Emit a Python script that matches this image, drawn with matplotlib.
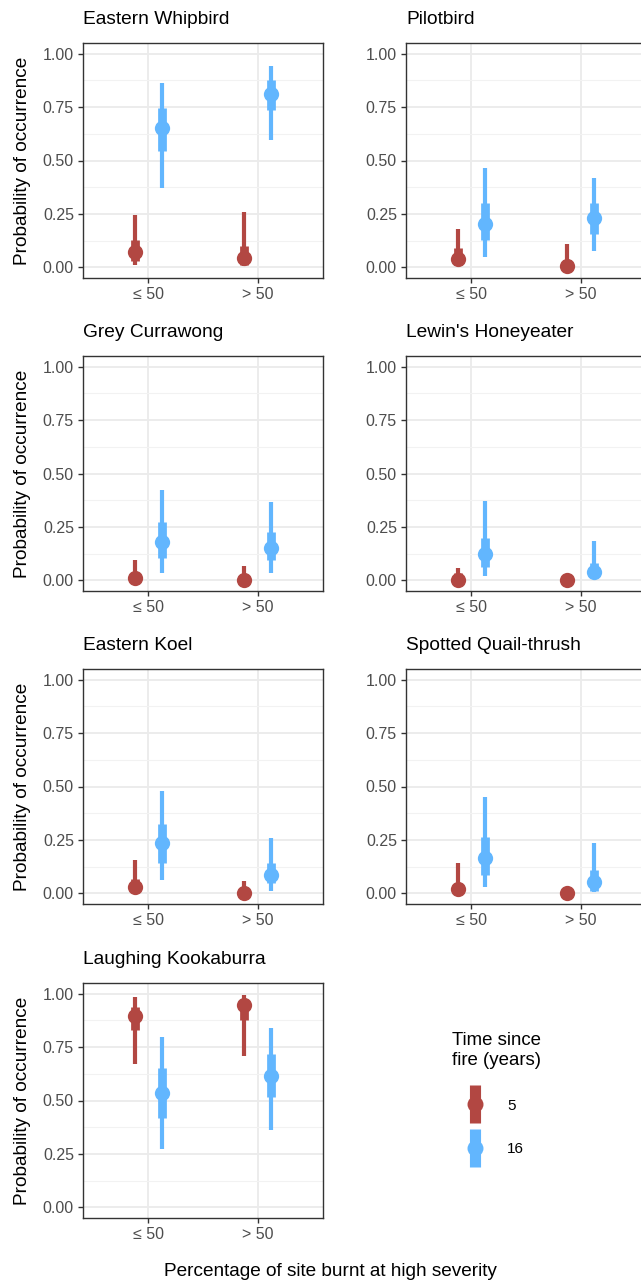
import numpy as np
import matplotlib.pyplot as plt
from matplotlib.lines import Line2D
from matplotlib.ticker import MultipleLocator

plt.rcParams['font.family'] = ['Liberation Sans', 'DejaVu Sans']

species = ['Eastern Whipbird', 'Pilotbird', 'Grey Currawong', "Lewin's Honeyeater",
           'Eastern Koel', 'Spotted Quail-thrush', 'Laughing Kookaburra']
categories = ['≤ 50', '> 50']
years = ['5', '16']

# rows = species, cols = (<= 50, > 50)
med_5 = [[0.072, 0.044], [0.040, 0.008], [0.011, 0.002], [0.002, 0.000],
         [0.028, 0.000], [0.020, 0.000], [0.894, 0.946]]
lo50_5 = [[0.030, 0.012], [0.012, 0.000], [0.000, 0.000], [0.000, 0.000],
          [0.012, 0.000], [0.005, 0.000], [0.829, 0.876]]
hi50_5 = [[0.130, 0.100], [0.090, 0.035], [0.035, 0.020], [0.035, 0.005],
          [0.067, 0.020], [0.040, 0.005], [0.938, 0.969]]
lo95_5 = [[0.010, 0.005], [0.005, 0.000], [0.000, 0.000], [0.000, 0.000],
          [0.005, 0.000], [0.000, 0.000], [0.669, 0.708]]
hi95_5 = [[0.246, 0.260], [0.180, 0.110], [0.095, 0.067], [0.060, 0.012],
          [0.157, 0.056], [0.144, 0.010], [0.984, 0.995]]

med_16 = [[0.653, 0.809], [0.204, 0.230], [0.180, 0.149], [0.121, 0.040],
          [0.234, 0.087], [0.167, 0.054], [0.537, 0.614]]
lo50_16 = [[0.546, 0.736], [0.130, 0.155], [0.103, 0.095], [0.064, 0.015],
           [0.144, 0.047], [0.087, 0.012], [0.417, 0.518]]
hi50_16 = [[0.747, 0.876], [0.300, 0.300], [0.274, 0.227], [0.200, 0.080],
           [0.326, 0.144], [0.265, 0.109], [0.650, 0.720]]
lo95_16 = [[0.370, 0.596], [0.050, 0.078], [0.036, 0.036], [0.020, 0.005],
           [0.060, 0.010], [0.028, 0.005], [0.274, 0.362]]
hi95_16 = [[0.863, 0.942], [0.467, 0.417], [0.425, 0.365], [0.373, 0.183],
           [0.480, 0.257], [0.451, 0.234], [0.795, 0.840]]

red = '#B24742'
blue = '#62B6FE'

W, H = 641, 1283
fig = plt.figure(figsize=(W / 100, H / 100), dpi=100)

col_left = [83, 406]
row_top = [43, 356, 669, 983]
aw, ah = 240, 235

series = [
    (med_5, lo50_5, hi50_5, lo95_5, hi95_5, red, -0.12),
    (med_16, lo50_16, hi50_16, lo95_16, hi95_16, blue, 0.12),
]

x = np.arange(1, len(categories) + 1)

for i, name in enumerate(species):
    r, c = divmod(i, 2)
    l = col_left[c]
    t = row_top[r]
    ax = fig.add_axes([l / W, 1 - (t + ah) / H, aw / W, ah / H])

    for med, lo50, hi50, lo95, hi95, col, off in series:
        xs = x + off
        ax.vlines(xs, lo95[i], hi95[i], color=col, lw=3.0, zorder=3)
        ax.vlines(xs, lo50[i], hi50[i], color=col, lw=6.3, zorder=3)
        ax.plot(xs, med[i], 'o', color=col, ms=11, mew=0, zorder=4)

    ax.set_xlim(0.4, 2.6)
    ax.set_xticks(x)
    ax.set_xticklabels(categories)
    ax.yaxis.set_minor_locator(MultipleLocator(0.125))
    ax.set_ylim(-0.05, 1.05)
    ax.set_yticks([0, 0.25, 0.5, 0.75, 1.0])
    ax.set_yticklabels(['0.00', '0.25', '0.50', '0.75', '1.00'])
    ax.grid(which='major', color='#EBEBEB', lw=1.3)
    ax.grid(which='minor', axis='y', color='#F2F2F2', lw=0.8)
    ax.set_axisbelow(True)
    ax.tick_params(which='major', length=3.5, width=1, color='#333333',
                   labelcolor='#4D4D4D', labelsize=11.5, pad=3)
    ax.tick_params(which='minor', length=0)
    for s in ax.spines.values():
        s.set_color('#333333')
        s.set_linewidth(1)
    ax.set_title(name, loc='left', fontsize=13.8, pad=14)
    if c == 0:
        fig.text(23 / W, 1 - (t + ah / 2) / H, 'Probability of occurrence',
                 rotation=90, ha='center', va='center', fontsize=13.7)

fig.text(330 / W, 1 - 1272 / H, 'Percentage of site burnt at high severity',
         ha='center', va='center', fontsize=13.7)

handles = []
for col in [red, blue]:
    bar = Line2D([], [], marker='|', ms=27, mew=8, color=col, ls='none')
    dot = Line2D([], [], marker='o', ms=11.5, mew=0, color=col, ls='none')
    handles.append((bar, dot))
leg = fig.legend(handles, years, title='Time since\nfire (years)',
                 loc='upper left', bbox_to_anchor=(446 / W, 1 - 1026 / H),
                 frameon=False, fontsize=11, title_fontsize=13.4,
                 labelspacing=1.95, handlelength=3.0, handletextpad=0.6,
                 borderaxespad=0, borderpad=0.4, alignment='left')

fig.savefig('out.png', dpi=100)
